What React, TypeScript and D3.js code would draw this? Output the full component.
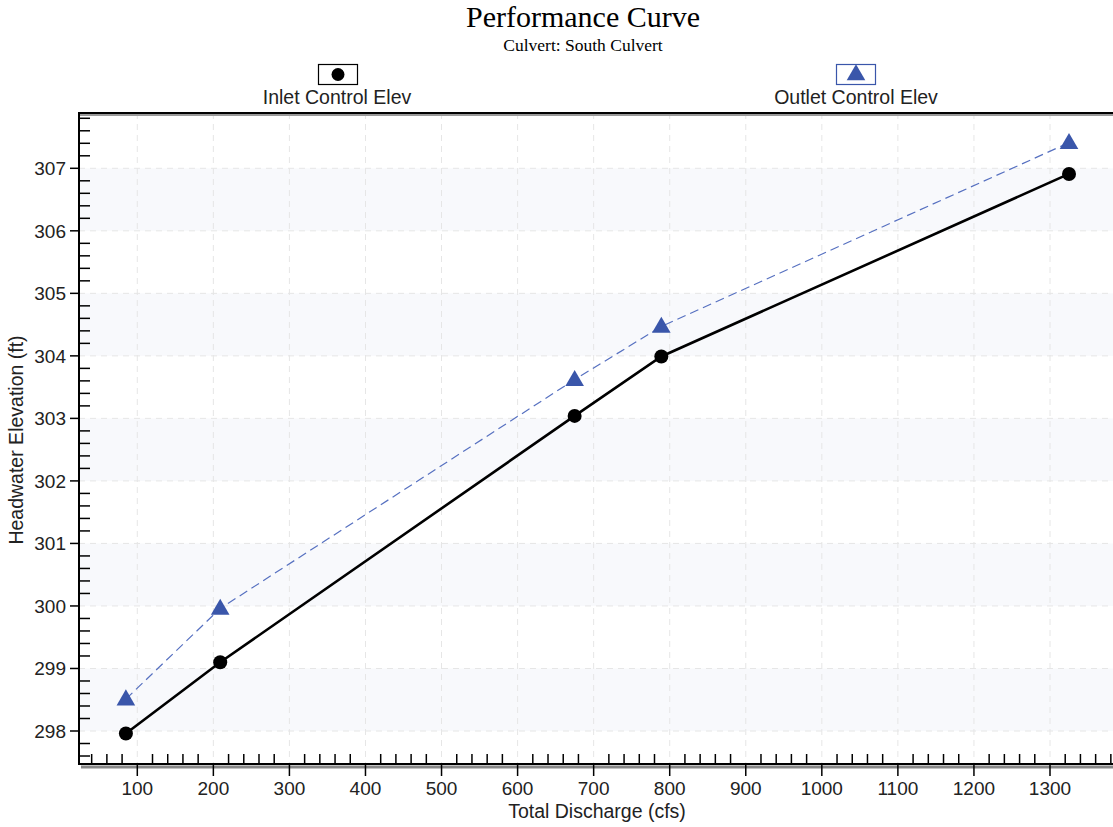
import React from "react";
import * as d3 from "d3";

const discharge = [85, 209, 675, 789, 1325];
const inletElev = [297.96, 299.1, 303.04, 303.99, 306.91];
const outletElev = [298.51, 299.96, 303.62, 304.47, 307.41];
const xMajorTicks = [100, 200, 300, 400, 500, 600, 700, 800, 900, 1000, 1100, 1200, 1300];
const yMajorTicks = [298, 299, 300, 301, 302, 303, 304, 305, 306, 307];
const seriesNames = ["Inlet Control Elev", "Outlet Control Elev"];
const titleText = "Performance Curve";
const subtitleText = "Culvert: South Culvert";
const xTitle = "Total Discharge (cfs)";
const yTitle = "Headwater Elevation (ft)";

const W = 1113;
const H = 827;
const L = 79;
const T = 113;
const R = 1113;
const B = 764;

const BLUE = "#3a56aa";
const SANS = "Arial, 'Liberation Sans', sans-serif";
const SERIF = "'Times New Roman', 'Liberation Serif', serif";

export default function App() {
  const x = d3.scaleLinear().domain([100, 1300]).range([137.3, 1050]);
  const y = d3.scaleLinear().domain([298, 307]).range([731, 168.3]);
  const xMin = x.invert(L);
  const xMax = x.invert(R);
  const yMin = y.invert(B);
  const yMax = y.invert(T);

  const xMinor = d3.range(Math.ceil(xMin / 20) * 20, xMax, 20).filter((v) => Math.abs(v % 100) > 1e-6);
  const yMinor = d3.range(Math.ceil(yMin / 0.2) * 0.2, yMax, 0.2).filter((v) => Math.abs(v - Math.round(v)) > 1e-6);

  const inletPts: [number, number][] = discharge.map((d, i) => [x(d), y(inletElev[i])]);
  const outletPts: [number, number][] = discharge.map((d, i) => [x(d), y(outletElev[i])]);
  const line = d3.line();
  const tri = d3.symbol().type(d3.symbolTriangle).size(150);
  const bands = yMajorTicks.filter((v) => v % 2 === 0 && v + 1 <= 307);

  return (
    <svg width={W} height={H} style={{ position: "absolute", left: 0, top: 0, background: "#fff" }}>
      <text x={583} y={27} textAnchor="middle" fontFamily={SERIF} fontSize={30} fill="#000">{titleText}</text>
      <text x={583} y={51} textAnchor="middle" fontFamily={SERIF} fontSize={17.5} fill="#000">{subtitleText}</text>

      {/* legend */}
      <rect x={318.5} y={64.5} width={39} height={20} fill="#fff" stroke="#000" strokeWidth={1.2} />
      <circle cx={338} cy={74.5} r={6.5} fill="#000" />
      <text x={337} y={104} textAnchor="middle" fontFamily={SANS} fontSize={19.5} fill="#222">{seriesNames[0]}</text>
      <rect x={836.5} y={64.5} width={39} height={20} fill="#fff" stroke={BLUE} strokeWidth={1.2} />
      <path d={tri() as string} transform={`translate(856,75)`} fill={BLUE} />
      <text x={856} y={104} textAnchor="middle" fontFamily={SANS} fontSize={19.5} fill="#222">{seriesNames[1]}</text>

      {/* bands */}
      {bands.map((v) => (
        <rect key={v} x={L} y={y(v + 1)} width={R - L} height={y(v) - y(v + 1)} fill="#f8f9fc" />
      ))}

      {/* grid */}
      {xMajorTicks.map((v) => (
        <line key={"gx" + v} x1={x(v)} x2={x(v)} y1={T} y2={B} stroke="#e6e6e6" strokeDasharray="6,5" />
      ))}
      {yMajorTicks.map((v) => (
        <line key={"gy" + v} x1={L} x2={R} y1={y(v)} y2={y(v)} stroke="#e6e6e6" strokeDasharray="6,5" />
      ))}

      {/* series */}
      <path d={line(outletPts) as string} fill="none" stroke="#5670c0" strokeWidth={1.2} strokeDasharray="9,5" />
      <path d={line(inletPts) as string} fill="none" stroke="#000" strokeWidth={2.6} />
      {outletPts.map((p, i) => (
        <path key={"t" + i} d={tri() as string} transform={`translate(${p[0]},${p[1] + 1})`} fill={BLUE} />
      ))}
      {inletPts.map((p, i) => (
        <circle key={"c" + i} cx={p[0]} cy={p[1]} r={7} fill="#000" />
      ))}

      {/* frame */}
      <line x1={L} x2={R} y1={115} y2={115} stroke="#999" strokeWidth={2} />
      <line x1={L} x2={R} y1={T} y2={T} stroke="#000" strokeWidth={2} />
      <line x1={L + 2} x2={R} y1={B + 3} y2={B + 3} stroke="#888" strokeWidth={3} />
      <line x1={L} x2={R} y1={B} y2={B} stroke="#000" strokeWidth={2} />
      <line x1={L} x2={L} y1={T - 1} y2={B + 1} stroke="#000" strokeWidth={2} />

      {/* x ticks */}
      {xMinor.map((v) => (
        <line key={"xm" + v} x1={x(v)} x2={x(v)} y1={B} y2={B - 10} stroke="#000" strokeWidth={1.5} />
      ))}
      {xMajorTicks.map((v) => (
        <g key={"xt" + v}>
          <line x1={x(v)} x2={x(v)} y1={B} y2={B + 12} stroke="#000" strokeWidth={1.5} />
          <text x={x(v)} y={795} textAnchor="middle" fontFamily={SANS} fontSize={19} fill="#222">{v}</text>
        </g>
      ))}

      {/* y ticks */}
      {yMinor.map((v) => (
        <line key={"ym" + v.toFixed(1)} x1={L} x2={L + 11} y1={y(v)} y2={y(v)} stroke="#000" strokeWidth={1.5} />
      ))}
      {yMajorTicks.map((v) => (
        <g key={"yt" + v}>
          <line x1={L - 9} x2={L} y1={y(v)} y2={y(v)} stroke="#000" strokeWidth={1.5} />
          <text x={66} y={y(v) + 7} textAnchor="end" fontFamily={SANS} fontSize={19} fill="#222">{v}</text>
        </g>
      ))}

      <text x={597} y={818} textAnchor="middle" fontFamily={SANS} fontSize={19.5} fill="#222">{xTitle}</text>
      <text transform={`translate(23,440) rotate(-90)`} textAnchor="middle" fontFamily={SANS} fontSize={19.5} fill="#222">{yTitle}</text>
    </svg>
  );
}
